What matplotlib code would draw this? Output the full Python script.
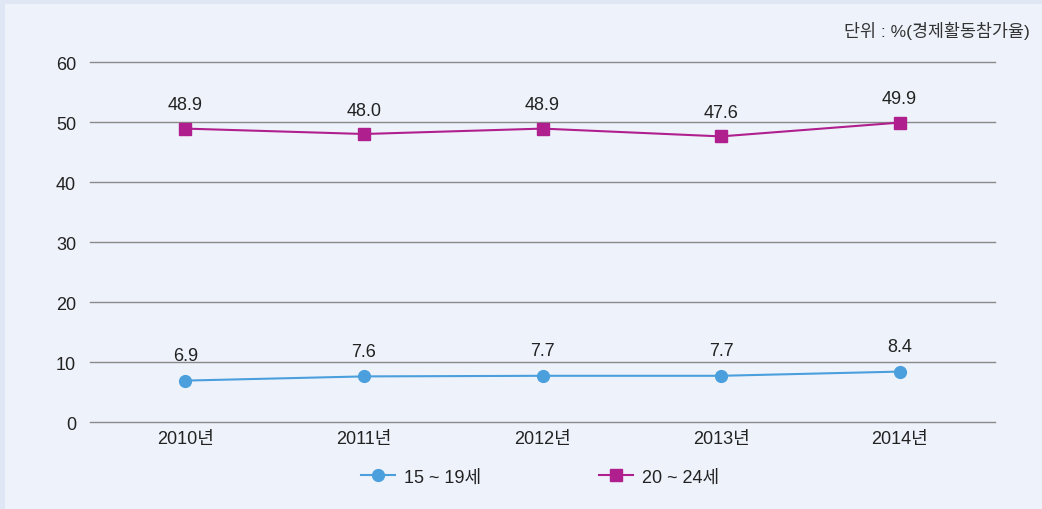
import matplotlib
matplotlib.use("Agg")
import matplotlib.pyplot as plt
from matplotlib.patches import Rectangle

categories = ["2010년", "2011년", "2012년", "2013년", "2014년"]
series_names = ["15 ~ 19세", "20 ~ 24세"]
teen = [6.9, 7.6, 7.7, 7.7, 8.4]
young = [48.9, 48.0, 48.9, 47.6, 49.9]
teen_labels = ["6.9", "7.6", "7.7", "7.7", "8.4"]
young_labels = ["48.9", "48.0", "48.9", "47.6", "49.9"]
yticks = [0, 10, 20, 30, 40, 50, 60]
unit_text = "단위 : %(경제활동참가율)"

plt.rcParams['font.family'] = ['Liberation Sans', 'Noto Sans CJK KR', 'DejaVu Sans']

W, H = 1042, 510
fig = plt.figure(figsize=(W / 100, H / 100), dpi=100)
fig.patch.set_facecolor('#dfe7f4')
fig.patches.append(Rectangle((5 / W, 0), 1, 1 - 5 / H, transform=fig.transFigure,
                             facecolor='#eef3fb', edgecolor='none', zorder=-5))

ax = fig.add_axes([90 / W, 1 - 423 / H, (995 - 90) / W, (423 - 63) / H])
ax.set_zorder(2)
ax.set_facecolor('none')
x = list(range(len(categories)))

blue = '#4a9fdc'
purple = '#b01f8e'
ax.plot(x, teen, color=blue, lw=1.5, marker='o', ms=8.5, label=series_names[0], zorder=3)
ax.plot(x, young, color=purple, lw=1.5, marker='s', ms=9, label=series_names[1], zorder=3)

for xi, v, t in zip(x, teen, teen_labels):
    ax.annotate(t, (xi, v), xytext=(0, 12), textcoords='offset points', ha='center',
                va='bottom', fontsize=13, color='#222222')
for xi, v, t in zip(x, young, young_labels):
    ax.annotate(t, (xi, v), xytext=(0, 11), textcoords='offset points', ha='center',
                va='bottom', fontsize=13, color='#222222')

ax.set_ylim(0, 60)
ax.set_xlim(-0.535, 4.535)
ax.set_yticks(yticks)
ax.set_xticks(x)
ax.set_xticklabels(categories)
ax.yaxis.grid(True, color='#8a8a8a', lw=1)
for gl in ax.get_ygridlines():
    gl.set_clip_on(False)
ax.set_axisbelow(True)
for s in ax.spines.values():
    s.set_visible(False)
ax.tick_params(axis='both', length=0, labelsize=13, colors='#222222')
ax.tick_params(axis='y', pad=10)
ax.tick_params(axis='x', pad=6)

leg = fig.legend(loc='center', bbox_to_anchor=(540 / W, 1 - 478 / H), ncol=2, frameon=False,
                 fontsize=13, handlelength=1.9, columnspacing=6.5, handletextpad=0.5)
for t in leg.get_texts():
    t.set_color('#222222')

fig.text(1030 / W, 1 - 31 / H, unit_text, ha='right', va='center', fontsize=12.5, color='#333333')

fig.savefig('out.png', dpi=100, facecolor=fig.get_facecolor())
